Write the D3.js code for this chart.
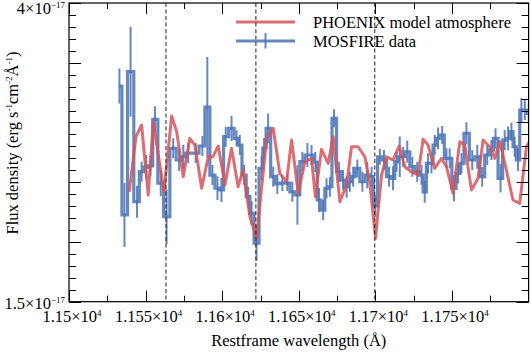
<!DOCTYPE html>
<html lang="en">
<head>
    <meta charset="UTF-8">
    <title>MOSFIRE spectrum vs PHOENIX model</title>
    <script src="https://cdnjs.cloudflare.com/ajax/libs/d3/7.8.5/d3.min.js"></script>
    <style>
        body { margin: 0; background: #fff; }
        svg { display: block; }
        svg text { font-family: "Liberation Serif", "DejaVu Serif", "Times New Roman", serif; }
    </style>
</head>
<body>
    <div id="chart"></div>
    <script>
        // MOSFIRE data (flux in units of 1e-17 erg/s/cm2/A)
        const dataWave = [11532.9, 11536.2, 11540.2, 11544.4, 11547.4, 11550.4, 11553.2, 11556.1, 11559.9, 11563.7,
            11568.0, 11571.9, 11574.6, 11577.8, 11582.7, 11587.1, 11590.3, 11593.6, 11596.9, 11599.5,
            11602.3, 11606.1, 11609.4, 11611.5, 11614.3, 11617.0, 11619.2, 11622.4, 11625.7, 11627.3,
            11630.0, 11633.3, 11636.0, 11639.3, 11642.5, 11645.8, 11649.1, 11652.3, 11655.6, 11658.3,
            11660.8, 11663.2, 11665.9, 11668.1, 11670.3, 11673.0, 11676.3, 11678.9, 11681.2, 11683.3,
            11685.5, 11688.2, 11691.5, 11694.7, 11697.5, 11699.9, 11702.9, 11705.6, 11708.9, 11711.5,
            11713.8, 11715.9, 11718.1, 11720.8, 11724.1, 11727.3, 11730.1, 11732.2, 11734.4, 11736.6,
            11738.7, 11740.9, 11743.6, 11746.4, 11748.5, 11751.3, 11754.0, 11756.2, 11759.4, 11763.2,
            11766.5, 11769.7, 11773.0, 11775.7, 11778.4, 11781.7, 11784.4, 11786.6, 11788.8, 11790.9,
            11793.1, 11795.3, 11797.5, 11800.1];
        const dataFlux = [3.305, 2.226, 3.425, 2.337, 2.588, 2.627, 2.636, 3.026, 2.493, 2.211,
            2.784, 2.686, 2.713, 2.744, 2.744, 2.803, 3.129, 2.560, 2.451, 2.435,
            2.881, 2.951, 2.867, 2.811, 2.560, 2.379, 2.240, 1.991, 2.616, 2.786,
            2.951, 2.546, 2.485, 2.493, 2.493, 2.420, 2.393, 2.672, 2.728, 2.728,
            2.669, 2.351, 2.267, 2.449, 2.462, 3.035, 2.588, 2.518, 2.462, 2.504,
            2.546, 2.616, 2.504, 2.560, 2.546, 2.301, 2.713, 2.686, 2.546, 2.533,
            2.672, 2.713, 2.713, 2.755, 2.630, 2.588, 2.560, 2.420, 2.658, 2.658,
            2.811, 2.867, 2.895, 2.700, 2.700, 2.449, 2.574, 2.658, 2.909, 2.686,
            2.713, 2.546, 2.728, 2.769, 2.867, 2.533, 2.853, 2.867, 2.923, 2.797,
            2.686, 3.104, 3.104, 3.077];
        const dataErr = [0.146, 0.268, 0.377, 0.134, 0.084, 0.100, 0.084, 0.109, 0.109, 0.230,
            0.084, 0.092, 0.100, 0.084, 0.084, 0.084, 0.420, 0.084, 0.100, 0.100,
            0.084, 0.105, 0.067, 0.084, 0.084, 0.084, 0.100, 0.150, 0.100, 0.084,
            0.125, 0.084, 0.084, 0.067, 0.067, 0.084, 0.250, 0.084, 0.100, 0.084,
            0.084, 0.100, 0.084, 0.084, 0.084, 0.075, 0.084, 0.084, 0.092, 0.084,
            0.084, 0.075, 0.084, 0.110, 0.084, 0.092, 0.067, 0.084, 0.084, 0.100,
            0.084, 0.170, 0.084, 0.092, 0.084, 0.084, 0.084, 0.092, 0.084, 0.084,
            0.084, 0.092, 0.075, 0.084, 0.084, 0.110, 0.084, 0.084, 0.092, 0.084,
            0.100, 0.084, 0.084, 0.084, 0.084, 0.120, 0.084, 0.100, 0.075, 0.084,
            0.092, 0.100, 0.084, 0.084];

        // PHOENIX model
        const modelWave = [11539.3, 11543.7, 11547.4, 11551.7, 11555.0, 11562.0, 11567.0, 11570.3, 11574.6, 11578.9,
            11582.2, 11586.6, 11590.9, 11593.9, 11597.4, 11601.8, 11606.1, 11610.4, 11613.7, 11618.1,
            11622.4, 11629.0, 11633.3, 11637.6, 11642.0, 11645.3, 11649.6, 11654.0, 11658.3, 11660.8,
            11664.8, 11669.2, 11672.4, 11676.8, 11681.2, 11684.4, 11688.7, 11693.1, 11696.4, 11700.1,
            11704.0, 11707.2, 11711.5, 11715.5, 11719.2, 11723.5, 11727.9, 11731.1, 11734.4, 11738.7,
            11743.1, 11746.4, 11750.7, 11755.1, 11758.3, 11762.7, 11767.0, 11770.3, 11774.6, 11777.9,
            11781.2, 11785.5, 11789.8, 11794.2, 11798.6, 11802.0];
        const modelFlux = [2.420, 2.881, 2.979, 2.393, 3.006, 2.418, 3.054, 2.923, 2.546, 2.867,
            2.811, 2.449, 2.713, 2.713, 2.803, 2.477, 2.784, 2.462, 2.602, 2.211,
            2.031, 2.867, 2.951, 2.574, 2.504, 2.853, 2.407, 2.672, 2.700, 2.379,
            2.775, 2.658, 2.881, 2.337, 2.477, 2.797, 2.797, 2.713, 2.491, 2.031,
            2.560, 2.713, 2.686, 2.803, 2.630, 2.588, 2.560, 2.859, 2.811, 2.616,
            2.700, 2.630, 2.407, 2.839, 2.811, 2.435, 2.533, 2.853, 2.797, 2.700,
            2.839, 2.602, 2.351, 2.323, 2.797, 2.870];

        const lineWave = [11563.3, 11622.0, 11699.6];
        const xMajor = [11500, 11550, 11600, 11650, 11700, 11750];
        const xMinor = [11525, 11575, 11625, 11675, 11725, 11775];
        const xLabels = ["1.15", "1.155", "1.16", "1.165", "1.17", "1.175"];
        const yMajor = [1.5, 2, 2.5, 3, 3.5, 4];
        const yMinor = d3.range(16, 40).map(v => v / 10).filter(v => !yMajor.includes(v));
        const yLabels = [{v: 4, t: "4"}, {v: 1.5, t: "1.5"}];

        const width = 531, height = 354;
        const pLeft = 69, pRight = 528.6, pTop = 3, pBottom = 301.7;
        const blue = "#4a73b6", red = "#d4555a";
        const serif = "'Liberation Serif', 'DejaVu Serif', 'Times New Roman', serif";

        const svg = d3.select("#chart").append("svg")
            .attr("width", width)
            .attr("height", height)
            .attr("font-family", serif);

        const x = d3.scaleLinear().domain([11500, 11800]).range([pLeft, pRight]);
        const y = d3.scaleLinear().domain([1.5, 4]).range([pBottom, pTop]);

        svg.append("clipPath").attr("id", "clip")
            .append("rect")
            .attr("x", pLeft).attr("y", pTop)
            .attr("width", pRight - pLeft).attr("height", pBottom - pTop);

        const plot = svg.append("g").attr("clip-path", "url(#clip)");

        const data = dataWave.map((w, i) => ({w: w, f: dataFlux[i], e: dataErr[i]}));
        const model = modelWave.map((w, i) => ({w: w, f: modelFlux[i]}));

        // error bars
        plot.append("g")
            .selectAll("line")
            .data(data)
            .join("line")
            .attr("x1", d => x(d.w)).attr("x2", d => x(d.w))
            .attr("y1", d => y(d.f - d.e)).attr("y2", d => y(d.f + d.e))
            .attr("stroke", blue)
            .attr("stroke-opacity", 0.85)
            .attr("stroke-width", 2);

        // data as steps
        plot.append("path")
            .datum(data)
            .attr("fill", "none")
            .attr("stroke", blue)
            .attr("stroke-opacity", 0.85)
            .attr("stroke-width", 3.2)
            .attr("d", d3.line().x(d => x(d.w)).y(d => y(d.f)).curve(d3.curveStep));

        // model line
        plot.append("path")
            .datum(model)
            .attr("fill", "none")
            .attr("stroke", red)
            .attr("stroke-opacity", 0.85)
            .attr("stroke-width", 3)
            .attr("stroke-linejoin", "round")
            .attr("d", d3.line().x(d => x(d.w)).y(d => y(d.f)));

        // legend
        const leg = svg.append("g");
        leg.append("line").attr("x1", 236).attr("x2", 295).attr("y1", 22).attr("y2", 22)
            .attr("stroke", red).attr("stroke-opacity", 0.85).attr("stroke-width", 3);
        leg.append("line").attr("x1", 236).attr("x2", 295).attr("y1", 41).attr("y2", 41)
            .attr("stroke", blue).attr("stroke-opacity", 0.85).attr("stroke-width", 3);
        leg.append("line").attr("x1", 265.5).attr("x2", 265.5).attr("y1", 33).attr("y2", 48.5)
            .attr("stroke", blue).attr("stroke-opacity", 0.85).attr("stroke-width", 2);
        leg.append("text").attr("x", 313).attr("y", 28).attr("font-size", 16.5)
            .text("PHOENIX model atmosphere");
        leg.append("text").attr("x", 313).attr("y", 46.5).attr("font-size", 16.5)
            .text("MOSFIRE data");

        // dashed lines
        svg.append("g")
            .selectAll("line")
            .data(lineWave)
            .join("line")
            .attr("x1", d => x(d)).attr("x2", d => x(d))
            .attr("y1", pTop).attr("y2", pBottom)
            .attr("stroke", "#222")
            .attr("stroke-width", 1)
            .attr("stroke-dasharray", "4,2.5");

        // ticks, all pointing inward
        function ticks(g, vals, len, horizontal) {
            g.selectAll("line")
                .data(vals)
                .join("line")
                .attr("stroke", "#000")
                .attr("stroke-width", 1)
                .each(function (d) {
                    const s = d3.select(this);
                    if (horizontal) {
                        const p = Math.round(x(d)) + 0.5;
                        s.attr("x1", p).attr("x2", p).attr("y1", len[0]).attr("y2", len[1]);
                    } else {
                        const p = Math.round(y(d)) + 0.5;
                        s.attr("y1", p).attr("y2", p).attr("x1", len[0]).attr("x2", len[1]);
                    }
                });
        }
        ticks(svg.append("g"), xMajor, [pBottom, pBottom - 11], true);
        ticks(svg.append("g"), xMinor, [pBottom, pBottom - 6], true);
        ticks(svg.append("g"), xMajor, [pTop, pTop + 11], true);
        ticks(svg.append("g"), xMinor, [pTop, pTop + 6], true);
        ticks(svg.append("g"), yMajor, [pLeft, pLeft + 12], false);
        ticks(svg.append("g"), yMinor, [pLeft, pLeft + 7], false);
        ticks(svg.append("g"), yMajor, [pRight, pRight - 12], false);
        ticks(svg.append("g"), yMinor, [pRight, pRight - 7], false);

        // frame
        svg.append("rect")
            .attr("x", pLeft).attr("y", pTop)
            .attr("width", pRight - pLeft).attr("height", pBottom - pTop)
            .attr("fill", "none").attr("stroke", "#000").attr("stroke-width", 1.2);

        // x tick labels
        const xl = svg.append("g").selectAll("text")
            .data(xMajor)
            .join("text")
            .attr("x", d => x(d) + 3)
            .attr("y", 322)
            .attr("text-anchor", "middle")
            .attr("font-size", 16.5);
        xl.append("tspan").text((d, i) => xLabels[i] + "\u00d710");
        xl.append("tspan").attr("dy", -6).attr("font-size", 9).text("4");

        // y tick labels
        const yl = svg.append("g").selectAll("text")
            .data(yLabels)
            .join("text")
            .attr("x", 65)
            .attr("y", d => d.v === 4 ? 14 : 308.5)
            .attr("text-anchor", "end")
            .attr("font-size", 16.5);
        yl.append("tspan").text(d => d.t + "\u00d710");
        yl.append("tspan").attr("dy", -6).attr("font-size", 9).text("\u221217");

        // axis titles
        svg.append("text")
            .attr("x", (pLeft + pRight) / 2)
            .attr("y", 346)
            .attr("text-anchor", "middle")
            .attr("font-size", 16.5)
            .text("Restframe wavelength (\u00c5)");

        const yt = svg.append("text")
            .attr("transform", "translate(18,143) rotate(-90)")
            .attr("text-anchor", "middle")
            .attr("font-size", 16.5);
        yt.append("tspan").text("Flux density (erg s");
        yt.append("tspan").attr("dy", -6).attr("font-size", 9).text("-1");
        yt.append("tspan").attr("dy", 6).text("cm");
        yt.append("tspan").attr("dy", -6).attr("font-size", 9).text("-2");
        yt.append("tspan").attr("dy", 6).text("\u00c5");
        yt.append("tspan").attr("dy", -6).attr("font-size", 9).text("-1");
        yt.append("tspan").attr("dy", 6).text(")");
    </script>
</body>
</html>
